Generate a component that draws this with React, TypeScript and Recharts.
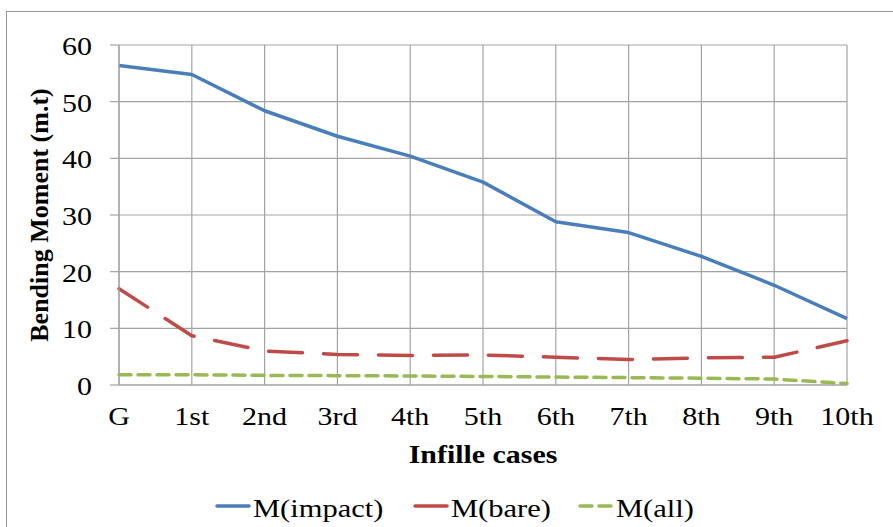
import React from 'react';
import { LineChart, Line, XAxis, YAxis, CartesianGrid, Legend, Label } from 'recharts';

const categories = ['G', '1st', '2nd', '3rd', '4th', '5th', '6th', '7th', '8th', '9th', '10th'];
const impact = [56.4, 54.8, 48.4, 43.9, 40.4, 35.8, 28.8, 26.9, 22.7, 17.6, 11.7];
const bare = [17.0, 8.7, 6.0, 5.4, 5.2, 5.3, 4.9, 4.5, 4.8, 4.9, 7.8];
const all = [1.8, 1.8, 1.7, 1.65, 1.6, 1.5, 1.4, 1.3, 1.2, 1.05, 0.25];
const yTicks = [0, 10, 20, 30, 40, 50, 60];

const FONT = '"Liberation Serif", "Times New Roman", serif';
const GRID = '#a3a3a3';

const series = [
  { key: 'impact', name: 'M(impact)', color: '#4a7ebb', dash: undefined, legendDash: undefined },
  { key: 'bare', name: 'M(bare)', color: '#be4b48', dash: '34 21', legendDash: undefined },
  { key: 'all', name: 'M(all)', color: '#98b954', dash: '12 7', legendDash: '12 7' },
];

const data = categories.map((c, i) => ({ name: c, impact: impact[i], bare: bare[i], all: all[i] }));

const XTick = ({ x, y, payload }: any) => (
  <text
    transform={`translate(${x},${y + 40}) scale(1.2,1)`}
    textAnchor="middle"
    fontFamily={FONT}
    fontSize={25}
    fill="#000"
  >
    {payload.value}
  </text>
);

const YTick = ({ x, y, payload }: any) => (
  <text
    transform={`translate(${x},${y + 10}) scale(1.2,1)`}
    textAnchor="end"
    fontFamily={FONT}
    fontSize={25}
    fill="#000"
  >
    {payload.value}
  </text>
);

const XTitle = ({ viewBox }: any) => (
  <text
    transform={`translate(${viewBox.x + viewBox.width / 2},${viewBox.y + 78}) scale(1.15,1)`}
    textAnchor="middle"
    fontFamily={FONT}
    fontSize={26}
    fontWeight="bold"
    fill="#000"
  >
    Infille cases
  </text>
);

const YTitle = ({ viewBox }: any) => {
  const cy = viewBox.y + viewBox.height / 2;
  return (
    <text
      transform={`translate(48,${cy}) rotate(-90)`}
      textAnchor="middle"
      fontFamily={FONT}
      fontSize={26}
      fontWeight="bold"
      fill="#000"
    >
      Bending Moment (m.t)
    </text>
  );
};

// legend item start positions
const legendX = [215, 413, 578];

const renderLegend = () => (
  <svg width={893} height={45}>
    {series.map((s, i) => (
      <g key={s.key}>
        <line
          x1={legendX[i] + 2}
          x2={legendX[i] + 34}
          y1={24}
          y2={24}
          stroke={s.color}
          strokeWidth={3.5}
          strokeLinecap="round"
          strokeDasharray={s.legendDash}
        />
        <text
          transform={`translate(${legendX[i] + 38},35) scale(1.22,1)`}
          fontFamily={FONT}
          fontSize={25}
          fill="#000"
        >
          {s.name}
        </text>
      </g>
    ))}
  </svg>
);

export default function App() {
  return (
    <div style={{ position: 'absolute', left: 0, top: 0, width: 893, height: 527, background: '#fff', overflow: 'hidden' }}>
      <div
        style={{
          position: 'absolute',
          left: 6,
          top: 11,
          width: 920,
          height: 560,
          border: '1.5px solid #959595',
        }}
      />
      <div style={{ position: 'absolute', left: 0, top: 0 }}>
        <LineChart width={893} height={527} data={data} margin={{ top: 45, right: 46, left: 0, bottom: 0 }}>
          <CartesianGrid stroke={GRID} strokeWidth={1.2} />
          <XAxis
            dataKey="name"
            height={142}
            tickLine={false}
            tickSize={0}
            tickMargin={0}
            axisLine={{ stroke: GRID, strokeWidth: 1.2 }}
            tick={<XTick />}
            interval={0}
          >
            <Label content={<XTitle />} />
          </XAxis>
          <YAxis
            width={119}
            domain={[0, 60]}
            ticks={yTicks}
            tickSize={9}
            tickMargin={18}
            tickLine={{ stroke: GRID, strokeWidth: 1.2 }}
            axisLine={{ stroke: GRID, strokeWidth: 1.2 }}
            tick={<YTick />}
            interval={0}
          >
            <Label content={<YTitle />} />
          </YAxis>
          <Legend
            layout="horizontal"
            verticalAlign="middle"
            align="center"
            content={renderLegend}
            wrapperStyle={{ top: 482, left: 0, width: 893, height: 45 }}
          />
          {series.map((s) => (
            <Line
              key={s.key}
              dataKey={s.key}
              name={s.name}
              stroke={s.color}
              strokeWidth={3.5}
              strokeDasharray={s.dash}
              strokeLinecap={s.dash ? 'round' : 'butt'}
              strokeLinejoin="round"
              dot={false}
              activeDot={false}
              isAnimationActive={false}
            />
          ))}
        </LineChart>
      </div>
    </div>
  );
}
